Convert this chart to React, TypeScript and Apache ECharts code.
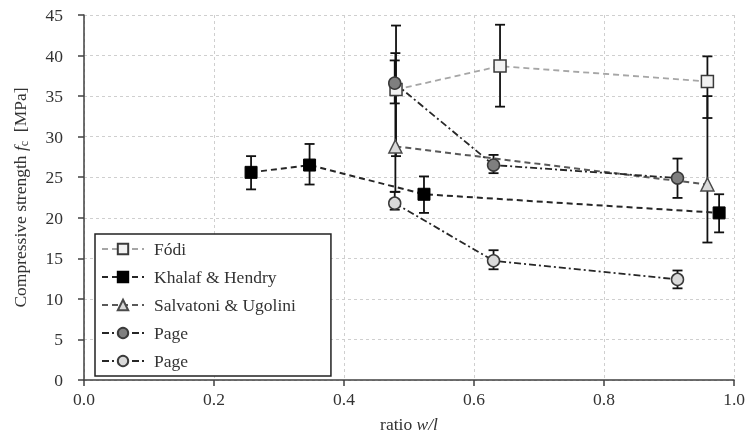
import React, { useEffect, useRef } from "react";
import * as echarts from "echarts";

const FONT = "Liberation Serif";
const FS = 17.5;

const fodiX = [0.48, 0.64, 0.959];
const fodiY = [35.8, 38.7, 36.8];
const fodiLow = [27.6, 33.7, 32.3];
const fodiHigh = [43.7, 43.8, 39.9];

const khalafX = [0.257, 0.347, 0.523, 0.977];
const khalafY = [25.6, 26.5, 22.9, 20.6];
const khalafLow = [23.5, 24.1, 20.6, 18.2];
const khalafHigh = [27.6, 29.1, 25.1, 22.9];

const salvX = [0.479, 0.959];
const salvY = [28.8, 24.1];
const salvLow = [23.2, 16.95];
const salvHigh = [40.3, 35.0];

const pageDarkX = [0.478, 0.63, 0.913];
const pageDarkY = [36.6, 26.5, 24.9];
const pageDarkLow = [34.1, 25.5, 22.45];
const pageDarkHigh = [39.4, 27.75, 27.3];

const pageLightX = [0.478, 0.63, 0.913];
const pageLightY = [21.8, 14.7, 12.4];
const pageLightLow = [21.0, 13.65, 11.3];
const pageLightHigh = [23.2, 16.0, 13.5];

const zip = (xs: number[], ys: number[]) => xs.map((x, i) => [x, ys[i]]);
const errs = (xs: number[], lo: number[], hi: number[]) => xs.map((x, i) => [x, lo[i], hi[i]]);

export default function App() {
  const ref = useRef<HTMLDivElement>(null);
  useEffect(() => {
    if (!ref.current) return;
    const chart = echarts.init(ref.current, null, { renderer: "svg" });
    const errData = [
      ...errs(fodiX, fodiLow, fodiHigh),
      ...errs(khalafX, khalafLow, khalafHigh),
      ...errs(salvX, salvLow, salvHigh),
      ...errs(pageDarkX, pageDarkLow, pageDarkHigh),
      ...errs(pageLightX, pageLightLow, pageLightHigh),
    ];
    const mkBorder = "#3a3a3a";
    chart.setOption({
      animation: false,
      textStyle: { fontFamily: FONT },
      grid: { left: 84, right: 12, top: 15, bottom: 55 },
      xAxis: {
        type: "value",
        min: 0,
        max: 1,
        interval: 0.2,
        axisLine: { lineStyle: { color: "#404040", width: 1.5 } },
        axisTick: { show: true, length: 6, lineStyle: { color: "#404040", width: 1.5 } },
        axisLabel: {
          formatter: (v: number) => v.toFixed(1),
          color: "#333",
          fontSize: FS,
          fontFamily: FONT,
          margin: 10,
        },
        splitLine: { show: true, lineStyle: { color: "#cfcfcf", type: [3, 3], width: 1 } },
        name: "{a|ratio }{i|w/l}",
        nameLocation: "middle",
        nameGap: 35,
        nameTextStyle: {
          rich: {
            a: { fontSize: FS, fontFamily: FONT, color: "#333" },
            i: { fontSize: FS, fontFamily: FONT, fontStyle: "italic", color: "#333" },
          },
        },
      },
      yAxis: {
        type: "value",
        min: 0,
        max: 45,
        interval: 5,
        axisLine: { show: true, lineStyle: { color: "#404040", width: 1.5 } },
        axisTick: { show: true, length: 6, lineStyle: { color: "#404040", width: 1.5 } },
        axisLabel: { color: "#333", fontSize: FS, fontFamily: FONT, margin: 21 },
        splitLine: { show: true, lineStyle: { color: "#cfcfcf", type: [3, 3], width: 1 } },
        name: "{a|Compressive strength }{i|f}{s|c}{a|  [MPa]}",
        nameLocation: "middle",
        nameGap: 54,
        nameTextStyle: {
          rich: {
            a: { fontSize: FS, fontFamily: FONT, color: "#333" },
            i: { fontSize: FS, fontFamily: FONT, fontStyle: "italic", color: "#333" },
            s: { fontSize: 12, fontFamily: FONT, color: "#333", padding: [9, 0, 0, 0] },
          },
        },
      },
      legend: {
        orient: "vertical",
        left: 95,
        top: 234,
        padding: [6, 35, 6, 6],
        itemWidth: 42,
        itemHeight: 13,
        itemGap: 10,
        borderColor: "#222",
        borderWidth: 1.5,
        backgroundColor: "#fff",
        data: ["Fódi", "Khalaf & Hendry", "Salvatoni & Ugolini", "Page", "Page "],
        formatter: (n: string) => n.trim(),
        textStyle: { fontSize: FS, fontFamily: FONT, color: "#333", padding: [0, 0, 0, 5] },
        z: 10,
      },
      series: [
        {
          type: "custom",
          name: "err",
          z: 1,
          silent: true,
          data: errData,
          renderItem: (params: any, api: any) => {
            const x = api.value(0);
            const lo = api.coord([x, api.value(1)]);
            const hi = api.coord([x, api.value(2)]);
            const w = 5;
            const style = { stroke: "#111", lineWidth: 1.8, fill: "none" };
            return {
              type: "group",
              children: [
                { type: "line", shape: { x1: lo[0], y1: lo[1], x2: hi[0], y2: hi[1] }, style },
                { type: "line", shape: { x1: lo[0] - w, y1: lo[1], x2: lo[0] + w, y2: lo[1] }, style },
                { type: "line", shape: { x1: hi[0] - w, y1: hi[1], x2: hi[0] + w, y2: hi[1] }, style },
              ],
            };
          },
        },
        {
          type: "line",
          name: "Fódi",
          z: 3,
          data: zip(fodiX, fodiY),
          symbol: "rect",
          symbolSize: 12,
          lineStyle: { color: "#a6a6a6", width: 1.8, type: [6, 4] },
          itemStyle: { color: "#f2f2f2", borderColor: mkBorder, borderWidth: 1.5 },
        },
        {
          type: "line",
          name: "Khalaf & Hendry",
          z: 3,
          data: zip(khalafX, khalafY),
          symbol: "rect",
          symbolSize: 12,
          lineStyle: { color: "#262626", width: 2, type: [6, 4] },
          itemStyle: { color: "#000", borderColor: "#000", borderWidth: 1 },
        },
        {
          type: "line",
          name: "Salvatoni & Ugolini",
          z: 3,
          data: zip(salvX, salvY),
          symbol: "triangle",
          symbolSize: 13,
          lineStyle: { color: "#595959", width: 2, type: [6, 4] },
          itemStyle: { color: "#d9d9d9", borderColor: "#4a4a4a", borderWidth: 1.5 },
        },
        {
          type: "line",
          name: "Page",
          z: 3,
          data: zip(pageDarkX, pageDarkY),
          symbol: "circle",
          symbolSize: 12,
          lineStyle: { color: "#262626", width: 1.8, type: [7, 3, 2, 3] },
          itemStyle: { color: "#7f7f7f", borderColor: mkBorder, borderWidth: 1.5 },
        },
        {
          type: "line",
          name: "Page ",
          z: 3,
          data: zip(pageLightX, pageLightY),
          symbol: "circle",
          symbolSize: 12,
          lineStyle: { color: "#262626", width: 1.8, type: [7, 3, 2, 3] },
          itemStyle: { color: "#d9d9d9", borderColor: mkBorder, borderWidth: 1.5 },
        },
      ],
    });
    return () => chart.dispose();
  }, []);
  return (
    <div
      ref={ref}
      style={{ width: 748, height: 438, position: "fixed", left: 0, top: 0 }}
    />
  );
}
